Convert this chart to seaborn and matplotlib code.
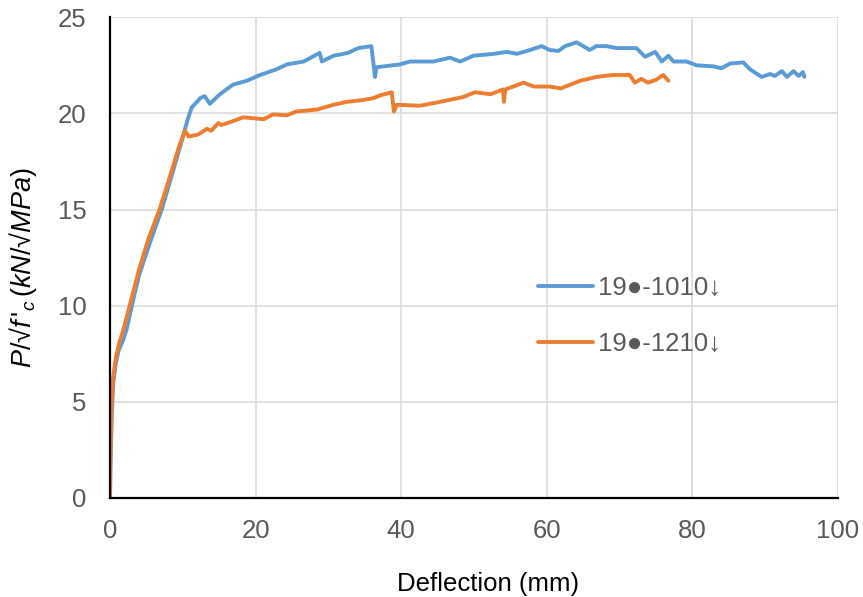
import numpy as np
import pandas as pd
import matplotlib
matplotlib.use("Agg")
import matplotlib.pyplot as plt
import seaborn as sns

# load-deflection curves
defl_1010 = [0, 0.05, 0.15, 0.25, 0.45, 0.8, 1.2, 1.8, 2.3, 3.0, 4.0, 5.5, 7.1, 8.5, 9.8, 10.6,
             11.2, 12.4, 13.0, 13.7, 15.1, 16.9, 18.8, 20.6, 22.9, 24.3, 26.6, 28.8, 29.1,
             30.7, 32.7, 34.1, 35.9, 36.4, 36.6, 39.8, 41.2, 44.4, 46.7, 48.1, 49.9, 52.7,
             54.5, 55.9, 57.7, 59.3, 60.4, 61.6, 62.5, 64.1, 65.9, 66.8, 68.2, 69.6, 72.3,
             73.5, 74.9, 75.8, 76.7, 77.4, 79.2, 80.6, 82.9, 84.0, 85.2, 87.0, 87.9, 89.5,
             90.7, 91.3, 92.3, 93.0, 93.9, 94.6, 95.2, 95.4]
load_1010 = [0, 1.5, 3.0, 4.4, 6.0, 7.0, 7.7, 8.2, 8.8, 10.0, 11.6, 13.3, 15.0, 16.8, 18.5, 19.6,
             20.3, 20.8, 20.9, 20.5, 21.0, 21.5, 21.7, 22.0, 22.3, 22.55, 22.7, 23.15, 22.7,
             23.0, 23.15, 23.4, 23.5, 21.9, 22.4, 22.55, 22.7, 22.7, 22.9, 22.7, 23.0, 23.1,
             23.2, 23.1, 23.3, 23.5, 23.3, 23.25, 23.5, 23.7, 23.3, 23.5, 23.5, 23.4, 23.4,
             22.95, 23.2, 22.7, 23.0, 22.7, 22.7, 22.5, 22.45, 22.35, 22.6, 22.65, 22.3, 21.9,
             22.05, 21.95, 22.2, 21.9, 22.2, 21.95, 22.15, 21.9]

defl_1210 = [0, 0.05, 0.12, 0.2, 0.4, 0.8, 1.3, 1.8, 2.7, 4.0, 5.3, 6.8, 8.3, 9.5, 10.3, 10.8,
             12.1, 13.3, 13.9, 14.9, 15.3, 16.9, 18.3, 21.1, 22.4, 24.3, 25.6, 28.4, 30.7,
             32.5, 34.8, 36.2, 37.2, 38.7, 39.0, 39.4, 42.6, 45.3, 48.5, 50.1, 52.3, 54.0,
             54.1, 54.3, 55.4, 56.8, 58.2, 60.4, 61.9, 64.6, 66.8, 69.1, 71.4, 72.1, 73.0,
             73.9, 75.0, 76.0, 76.7]
load_1210 = [0, 1.8, 3.3, 4.8, 6.2, 7.3, 8.1, 8.7, 10.0, 11.9, 13.5, 15.0, 16.8, 18.3, 19.1, 18.8,
             18.9, 19.2, 19.1, 19.5, 19.4, 19.6, 19.8, 19.7, 19.95, 19.9, 20.1, 20.2, 20.45,
             20.6, 20.7, 20.8, 20.95, 21.1, 20.1, 20.45, 20.4, 20.6, 20.85, 21.1, 21.0, 21.25,
             20.6, 21.25, 21.4, 21.6, 21.4, 21.4, 21.3, 21.7, 21.9, 22.0, 22.0, 21.6, 21.8,
             21.6, 21.75, 22.0, 21.7]

labels = ["19●-1010↓", "19●-1210↓"]
colors = ["#5B9BD5", "#ED7D31"]

sns.set_theme(style="white")
plt.rcParams["font.family"] = ["Liberation Sans", "DejaVu Sans"]
plt.rcParams["mathtext.fontset"] = "custom"
plt.rcParams["mathtext.rm"] = "Liberation Sans"
plt.rcParams["mathtext.it"] = "Liberation Sans:italic"

fig = plt.figure(figsize=(8.63, 5.97), dpi=100)
ax = fig.add_axes([0.1275, 0.166, 0.8435, 0.805])

sns.lineplot(x=defl_1010, y=load_1010, sort=False, estimator=None, color=colors[0],
             linewidth=2.8, label=labels[0], ax=ax)
sns.lineplot(x=defl_1210, y=load_1210, sort=False, estimator=None, color=colors[1],
             linewidth=2.8, label=labels[1], ax=ax)

ax.set_xlim(0, 100)
ax.set_ylim(0, 25)
ax.set_xticks(np.arange(0, 101, 20))
ax.set_yticks(np.arange(0, 26, 5))
ax.grid(True, color="#D9D9D9", linewidth=1.1)
ax.set_axisbelow(True)
for s in ["top", "right"]:
    ax.spines[s].set_visible(False)
for s in ["left", "bottom"]:
    ax.spines[s].set_color("black")
    ax.spines[s].set_linewidth(1.6)
ax.tick_params(length=0, labelsize=18.5, labelcolor="#595959")
ax.tick_params(axis="y", pad=17)
ax.tick_params(axis="x", pad=15)

ax.set_xlabel("Deflection (mm)", fontsize=18.5, color="black", labelpad=12)
ax.xaxis.set_label_coords(0.52, -0.155)
ax.set_ylabel(r"$P/√f\,'_{c}\,(kN/√MPa)$", fontsize=19.5, color="black", labelpad=12)
ax.yaxis.set_label_coords(-0.097, 0.48)

leg = ax.legend(loc="center left", bbox_to_anchor=(0.556, 0.378), frameon=False,
                fontsize=18.5, handlelength=2.14, labelspacing=1.23, handletextpad=0.2)
for t in leg.get_texts():
    t.set_color("#595959")

fig.savefig("out.png", dpi=100)
